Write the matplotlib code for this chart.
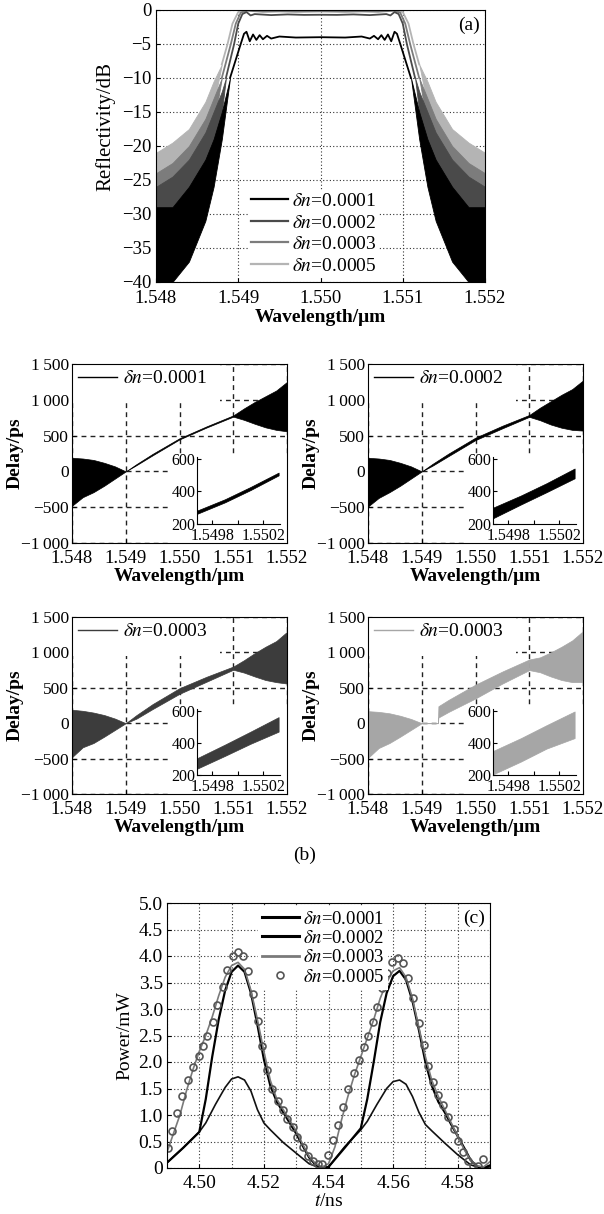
import matplotlib
matplotlib.use("Agg")
import matplotlib.pyplot as plt
from matplotlib.patches import Rectangle

plt.rcParams['font.family'] = ['Liberation Serif', 'DejaVu Serif']
plt.rcParams['mathtext.fontset'] = 'stix'
plt.rcParams['axes.unicode_minus'] = True

W, H = 604, 1214

# ---------------- (a) reflectivity spectra ----------------
# noisy side-lobe skirts (upper / lower envelope, dB)
skirt_wl_L = {'0.0005': [1.5480, 1.5482, 1.5484, 1.5486, 1.5487, 1.5488],
              '0.0003': [1.5480, 1.5482, 1.5484, 1.5486, 1.5487, 1.5488],
              '0.0002': [1.5480, 1.5482, 1.5484, 1.5486, 1.5487, 1.5488, 1.54885],
              '0.0001': [1.5480, 1.5482, 1.5484, 1.5486, 1.5487, 1.5488, 1.5489]}
skirt_wl_R = {'0.0005': [1.5512, 1.5513, 1.5514, 1.5516, 1.5518, 1.5520],
              '0.0003': [1.5512, 1.5513, 1.5514, 1.5516, 1.5518, 1.5520],
              '0.0002': [1.55115, 1.5512, 1.5513, 1.5514, 1.5516, 1.5518, 1.5520],
              '0.0001': [1.5511, 1.5512, 1.5513, 1.5514, 1.5516, 1.5518, 1.5520]}
up_L = {'0.0005': [-21, -19.5, -17.5, -13.5, -10.5, -8],
        '0.0003': [-24, -22.5, -20, -16, -13, -10],
        '0.0002': [-26, -24.5, -22, -18, -15, -12, -10],
        '0.0001': [-29, -29, -26, -22, -19, -15, -10]}
lo_L = {'0.0005': [-30, -28, -24, -19, -14, -8],
        '0.0003': [-33, -31, -27.5, -22, -17, -10],
        '0.0002': [-36, -34, -30.5, -25, -20.5, -15, -10],
        '0.0001': [-40, -40, -37, -31, -26, -19, -10]}
up_R = {'0.0005': [-8, -10.5, -13.5, -17.5, -19.5, -21],
        '0.0003': [-10, -13, -16, -20, -22.5, -24],
        '0.0002': [-10, -12, -15, -18, -22, -24.5, -26],
        '0.0001': [-10, -15, -19, -22, -26, -29, -29]}
lo_R = {'0.0005': [-8, -14, -19, -24, -28, -30],
        '0.0003': [-10, -17, -22, -27.5, -31, -33],
        '0.0002': [-10, -15, -20.5, -25, -30.5, -34, -36],
        '0.0001': [-10, -19, -26, -31, -37, -40, -40]}

# band edges and pass band
band_wl = {
    '0.0005': [1.5488, 1.54887, 1.54893, 1.5490, 1.5491, 1.5493, 1.5495, 1.5497, 1.5500,
               1.5503, 1.5505, 1.5507, 1.5509, 1.5510, 1.55107, 1.55113, 1.5512],
    '0.0003': [1.5488, 1.54891, 1.54897, 1.54903, 1.5491, 1.5493, 1.5495, 1.5497, 1.5500,
               1.5503, 1.5505, 1.5507, 1.5509, 1.55097, 1.55103, 1.55109, 1.5512],
    '0.0002': [1.54885, 1.54895, 1.5490, 1.54905, 1.5491, 1.54915, 1.5492, 1.5494,
               1.5496, 1.5498, 1.5500, 1.5502, 1.5504, 1.5506, 1.5508, 1.55085, 1.5509,
               1.55095, 1.5510, 1.55105, 1.55115],
    '0.0001': [1.5489, 1.54903, 1.54907, 1.5491, 1.54914, 1.54918, 1.54922, 1.54926,
               1.5493, 1.54935, 1.5494, 1.5495, 1.5497, 1.5500, 1.5503, 1.5505, 1.5506,
               1.55065, 1.5507, 1.55074, 1.55078, 1.55082, 1.55086, 1.5509, 1.55093,
               1.55097, 1.5511]}
band_db = {
    '0.0005': [-8, -5, -2, -0.3, 0, -0.05, -0.1, -0.05, -0.1, -0.05, -0.1, -0.05, 0,
               -0.3, -2, -5, -8],
    '0.0003': [-10, -5, -2, -0.4, -0.1, -0.25, -0.2, -0.25, -0.2, -0.25, -0.2, -0.25,
               -0.1, -0.4, -2, -5, -10],
    '0.0002': [-10, -5, -2, -0.6, -0.3, -0.8, -0.6, -0.75, -0.65, -0.72, -0.7,
               -0.72, -0.65, -0.75, -0.6, -0.8, -0.3, -0.6, -2, -5, -10],
    '0.0001': [-10, -5, -3.5, -3.2, -4.6, -3.6, -4.4, -3.7, -4.3, -3.8, -4.2, -3.9,
               -4.05, -4.0, -4.05, -3.9, -4.2, -3.8, -4.3, -3.7, -4.4, -3.6, -4.6, -3.2,
               -3.5, -5, -10]}
a_colors = {'0.0001': '#000000', '0.0002': '#4a4a4a', '0.0003': '#7c7c7c', '0.0005': '#b4b4b4'}
a_order = ['0.0005', '0.0003', '0.0002', '0.0001']

# ---------------- (b) group delay ----------------
bl_L = [1.5480, 1.5482, 1.5484, 1.5486, 1.5488, 1.5490]
bl_D = [1.5490, 1.5492, 1.5495, 1.5500, 1.5505, 1.5510]
bl_D4 = [1.5490, 1.5493, 1.54931, 1.5495, 1.5500, 1.5505, 1.5510]
bl_R = [1.5510, 1.5512, 1.5514, 1.5516, 1.5518, 1.5520]
in_x = [1.54968, 1.5499, 1.5501, 1.55032]

b_panels = [
    dict(label='0.0001', color='#000000',
         lu=[190, 180, 160, 120, 70, 0], ll=[-480, -360, -290, -200, -100, 0],
         dx=bl_D, du=[0, 102, 245, 463, 628, 782], dl=[0, 88, 225, 447, 612, 765],
         ru=[782, 880, 970, 1050, 1130, 1250], rl=[765, 720, 665, 615, 580, 560],
         iu=[282, 352, 427, 515], il=[262, 333, 408, 498]),
    dict(label='0.0002', color='#000000',
         lu=[190, 180, 160, 120, 70, 0], ll=[-490, -370, -290, -200, -100, 0],
         dx=bl_D, du=[0, 105, 250, 472, 638, 788], dl=[0, 80, 215, 438, 602, 762],
         ru=[788, 890, 980, 1070, 1150, 1270], rl=[762, 715, 655, 610, 580, 570],
         iu=[300, 375, 450, 540], il=[235, 320, 395, 480]),
    dict(label='0.0003', color='#3c3c3c',
         lu=[190, 175, 150, 115, 65, 0], ll=[-480, -340, -280, -190, -95, 0],
         dx=bl_D, du=[0, 115, 270, 495, 655, 800], dl=[0, 65, 200, 415, 585, 755],
         ru=[800, 890, 990, 1080, 1160, 1290], rl=[755, 715, 660, 610, 580, 560],
         iu=[305, 390, 470, 560], il=[240, 320, 395, 470]),
    dict(label='0.0003', color='#a6a6a6',
         lu=[170, 160, 140, 105, 60, 0], ll=[-490, -350, -280, -190, -95, 0],
         dx=bl_D4, du=[0, 0, 240, 330, 545, 730, 900], dl=[0, 0, 80, 160, 350, 560, 750],
         ru=[900, 930, 1000, 1080, 1170, 1300], rl=[750, 720, 660, 610, 580, 580],
         iu=[350, 430, 510, 595], il=[205, 285, 365, 430]),
]
b_boxes = [(72, 364, 287, 543), (368, 364, 583, 543), (72, 617, 287, 794), (368, 617, 583, 794)]

# ---------------- (c) output pulses ----------------
t1 = [4.490, 4.495, 4.500, 4.502, 4.505, 4.508, 4.510, 4.512, 4.514, 4.516, 4.518, 4.520,
      4.522, 4.526, 4.530, 4.534, 4.537, 4.540, 4.545, 4.550, 4.552, 4.555, 4.558, 4.560,
      4.562, 4.564, 4.566, 4.568, 4.570, 4.572, 4.576, 4.580, 4.584, 4.587, 4.590]
p1 = [0.10, 0.38, 0.68, 0.85, 1.20, 1.52, 1.68, 1.72, 1.66, 1.45, 1.10, 0.85, 0.72, 0.48,
      0.28, 0.08, 0.01, 0.02, 0.40, 0.72, 0.88, 1.20, 1.50, 1.63, 1.66, 1.58, 1.35, 1.05,
      0.82, 0.70, 0.47, 0.25, 0.06, 0.00, 0.02]
t2 = [4.490, 4.495, 4.500, 4.502, 4.504, 4.506, 4.508, 4.510, 4.512, 4.514, 4.516, 4.518,
      4.520, 4.522, 4.524, 4.526, 4.528, 4.530, 4.532, 4.534, 4.536, 4.538, 4.540, 4.545,
      4.550, 4.552, 4.554, 4.556, 4.558, 4.560, 4.562, 4.564, 4.566, 4.568, 4.570, 4.572,
      4.574, 4.576, 4.578, 4.580, 4.582, 4.584, 4.586, 4.588, 4.590]
p2 = [0.10, 0.38, 0.68, 1.30, 2.10, 2.80, 3.35, 3.70, 3.82, 3.70, 3.30, 2.70, 2.05, 1.55,
      1.25, 1.05, 0.85, 0.65, 0.42, 0.20, 0.06, 0.00, 0.02, 0.38, 0.75, 1.30, 2.00, 2.75,
      3.30, 3.62, 3.72, 3.55, 3.15, 2.60, 2.00, 1.55, 1.25, 1.05, 0.82, 0.60, 0.38, 0.15,
      0.03, 0.00, 0.05]
t3 = [4.490, 4.492, 4.494, 4.496, 4.498, 4.500, 4.502, 4.504, 4.506, 4.508, 4.510, 4.512,
      4.514, 4.516, 4.518, 4.520, 4.522, 4.524, 4.526, 4.528, 4.530, 4.532, 4.534, 4.536,
      4.538, 4.540, 4.542, 4.544, 4.546, 4.548, 4.550, 4.552, 4.554, 4.556, 4.558, 4.560,
      4.562, 4.564, 4.566, 4.568, 4.570, 4.572, 4.574, 4.576, 4.578, 4.580, 4.582, 4.584,
      4.586, 4.588, 4.590]
p3 = [0.30, 0.65, 1.00, 1.45, 1.85, 2.20, 2.50, 2.85, 3.25, 3.60, 3.82, 3.88, 3.75, 3.35,
      2.80, 2.20, 1.65, 1.30, 1.10, 0.90, 0.70, 0.45, 0.22, 0.08, 0.02, 0.08, 0.40, 0.90,
      1.35, 1.75, 2.10, 2.45, 2.80, 3.20, 3.50, 3.72, 3.78, 3.60, 3.20, 2.65, 2.10, 1.65,
      1.35, 1.10, 0.85, 0.60, 0.35, 0.15, 0.04, 0.02, 0.12]
t5 = [4.4902, 4.4917, 4.4931, 4.4947, 4.4965, 4.4980, 4.5000, 4.5011, 4.5025, 4.5043,
      4.5056, 4.5073, 4.5087, 4.5104, 4.5119, 4.5136, 4.5152, 4.5165, 4.5182, 4.5194,
      4.5210, 4.5225, 4.5243, 4.5258, 4.5273, 4.5289, 4.5304, 4.5320, 4.5336, 4.5351,
      4.5366, 4.5381, 4.5397, 4.5413, 4.5428, 4.5446, 4.5461, 4.5478, 4.5494, 4.5510,
      4.5523, 4.5538, 4.5551, 4.5566, 4.5582, 4.5597, 4.5615, 4.5630, 4.5646, 4.5661,
      4.5679, 4.5695, 4.5709, 4.5723, 4.5738, 4.5753, 4.5771, 4.5787, 4.5802, 4.5817,
      4.5832, 4.5848, 4.5863, 4.5878]
p5 = [0.38, 0.70, 1.03, 1.36, 1.66, 1.90, 2.12, 2.31, 2.50, 2.75, 3.07, 3.42, 3.73, 4.00,
      4.07, 4.00, 3.72, 3.28, 2.77, 2.31, 1.85, 1.50, 1.26, 1.09, 0.93, 0.78, 0.59, 0.40,
      0.23, 0.13, 0.08, 0.08, 0.25, 0.52, 0.82, 1.16, 1.49, 1.80, 2.03, 2.28, 2.50, 2.75,
      3.04, 3.39, 3.67, 3.89, 3.96, 3.87, 3.58, 3.20, 2.74, 2.32, 1.93, 1.63, 1.37, 1.19,
      0.96, 0.73, 0.51, 0.30, 0.13, 0.03, 0.04, 0.17]


def box(l, t, r, b):
    return [l / W, 1 - b / H, (r - l) / W, (b - t) / H]


def dn(v):
    return r'$\delta n$=' + v


fig = plt.figure(figsize=(W / 100, H / 100), dpi=100)

# ---- panel (a)
ax = fig.add_axes(box(156, 10, 485, 282))
ax.set_axisbelow(True)
for k in a_order:
    c = a_colors[k]
    ax.fill_between(skirt_wl_L[k], up_L[k], lo_L[k], color=c, lw=0.6)
    ax.fill_between(skirt_wl_R[k], up_R[k], lo_R[k], color=c, lw=0.6)
    ax.plot(band_wl[k], band_db[k], color=c, lw=1.3)
keys = ['0.0001', '0.0002', '0.0003', '0.0005']
handles = [plt.Line2D([], [], color=a_colors[k], lw=1.6) for k in keys]
ax.legend(handles, [dn(k) for k in keys],
          loc='upper left', bbox_to_anchor=(0.28, 0.34), fontsize=14, frameon=True,
          facecolor='white', edgecolor='none', framealpha=1, fancybox=False,
          handlelength=1.9, handletextpad=0.2, labelspacing=0.2, borderpad=0.15,
          borderaxespad=0)
ax.set_xlim(1.548, 1.552)
ax.set_ylim(-40, 0)
ax.set_xticks([1.548, 1.549, 1.550, 1.551, 1.552])
ax.set_xticklabels(['1.548', '1.549', '1.550', '1.551', '1.552'])
ax.set_yticks(range(-40, 1, 5))
ax.grid(True, ls=(0, (1, 2)), color='#333333', lw=0.8)
ax.tick_params(direction='in', length=3, labelsize=13.5)
ax.tick_params(axis='x', pad=6)
ax.set_ylabel('Reflectivity/dB', fontsize=15)
ax.yaxis.set_label_coords(-0.125, 0.57)
ax.set_xlabel('Wavelength/μm', fontsize=14, fontweight='bold', labelpad=1)
ax.text(0.985, 0.975, '(a)', transform=ax.transAxes, ha='right', va='top', fontsize=14)

# ---- panel (b)
for p, bx in zip(b_panels, b_boxes):
    ax = fig.add_axes(box(*bx))
    ax.set_axisbelow(True)
    c = p['color']
    ax.fill_between(bl_L, p['lu'], p['ll'], color=c, lw=0.5, zorder=2)
    ax.fill_between(p['dx'], p['du'], p['dl'], color=c, lw=0.5, zorder=2)
    ax.fill_between(bl_R, p['ru'], p['rl'], color=c, lw=0.5, zorder=2)
    # white areas behind legend and inset hide the grid, as in the original
    ax.add_patch(Rectangle((0, 0.78), 0.69, 0.22, transform=ax.transAxes,
                           facecolor='white', edgecolor='none', zorder=1))
    ax.add_patch(Rectangle((0.45, 0), 0.55, 0.49, transform=ax.transAxes,
                           facecolor='white', edgecolor='none', zorder=1))
    ax.plot([], [], color=c, lw=1.0, label=dn(p['label']))
    ax.legend(loc='upper left', frameon=False, fontsize=14, handlelength=2.0,
              handletextpad=0.3, borderaxespad=0.1, borderpad=0.2)
    ax.set_xlim(1.548, 1.552)
    ax.set_ylim(-1000, 1500)
    ax.set_xticks([1.548, 1.549, 1.550, 1.551, 1.552])
    ax.set_xticklabels(['1.548', '1.549', '1.550', '1.551', '1.552'])
    ax.set_yticks([-1000, -500, 0, 500, 1000, 1500])
    ax.set_yticklabels(['\u22121\u2009000', '\u2212500', '0', '500', '1\u2009000', '1\u2009500'])
    ax.grid(True, ls=(0, (3.5, 3)), color='#222222', lw=1.0)
    ax.tick_params(direction='in', length=3, pad=2)
    ax.tick_params(axis='x', labelsize=13.5, pad=5)
    ax.tick_params(axis='y', labelsize=12.5)
    ax.set_ylabel('Delay/ps', fontsize=14, fontweight='bold')
    ax.yaxis.set_label_coords(-0.225, 0.5)
    ax.set_xlabel('Wavelength/μm', fontsize=14, fontweight='bold', labelpad=1)

    ins = ax.inset_axes([0.581, 0.106, 0.386, 0.374])
    ins.fill_between(in_x, p['iu'], p['il'], color=c, lw=0.5)
    ins.set_xlim(1.54968, 1.55033)
    ins.set_ylim(200, 610)
    ins.set_xticks([1.5498, 1.5500, 1.5502])
    ins.set_xticklabels(['1.5498', '', '1.5502'])
    ins.set_yticks([200, 400, 600])
    ins.spines['top'].set_visible(False)
    ins.spines['right'].set_visible(False)
    ins.patch.set_alpha(0)
    ins.tick_params(direction='in', length=3, labelsize=11.5, pad=1)
    ins.tick_params(axis='x', pad=3)

fig.text(305 / W, 1 - 855 / H, '(b)', ha='center', va='center', fontsize=14)

# ---- panel (c)
ax = fig.add_axes(box(167, 903, 490, 1168))
ax.set_axisbelow(True)
ax.plot(t1, p1, color='#111111', lw=1.2, label=dn('0.0001'))
ax.plot(t2, p2, color='#000000', lw=1.6, label=dn('0.0002'))
ax.plot(t3, p3, color='#7a7a7a', lw=1.2, label=dn('0.0003'))
ax.plot(t5, p5, ls='none', marker='o', ms=5, mfc='none', mec='#555555', mew=1.2,
        label=dn('0.0005'))
h, l = ax.get_legend_handles_labels()
h[0] = plt.Line2D([], [], color='#000000', lw=2.2)
h[1] = plt.Line2D([], [], color='#000000', lw=2.2)
h[2] = plt.Line2D([], [], color='#7a7a7a', lw=2.0)
ax.legend(h, l, loc='upper left', bbox_to_anchor=(0.27, 1.0), fontsize=13.5, frameon=True,
          facecolor='white', edgecolor='none', framealpha=1, fancybox=False,
          handlelength=2.0, handletextpad=0.2, labelspacing=0.12, borderpad=0.2,
          borderaxespad=0.2, numpoints=1)
ax.set_xlim(4.49, 4.59)
ax.set_ylim(0, 5)
ax.set_xticks([4.50, 4.52, 4.54, 4.56, 4.58])
ax.set_xticklabels(['4.50', '4.52', '4.54', '4.56', '4.58'])
ax.set_xticks([4.49, 4.51, 4.53, 4.55, 4.57, 4.59], minor=True)
ax.set_yticks([0, 0.5, 1, 1.5, 2, 2.5, 3, 3.5, 4, 4.5, 5])
ax.set_yticklabels(['0', '0.5', '1.0', '1.5', '2.0', '2.5', '3.0', '3.5', '4.0', '4.5', '5.0'])
ax.grid(True, which='both', axis='x', ls=(0, (1, 2)), color='#333333', lw=0.8)
ax.grid(True, which='major', axis='y', ls=(0, (1, 2)), color='#333333', lw=0.8)
ax.tick_params(direction='in', length=3, labelsize=14, pad=3)
ax.tick_params(axis='x', pad=5)
ax.tick_params(which='minor', length=0)
ax.set_ylabel('Power/mW', fontsize=14)
ax.set_xlabel(r'$t$/ns', fontsize=14, labelpad=1)
ax.text(0.985, 0.975, '(c)', transform=ax.transAxes, ha='right', va='top', fontsize=14)

fig.savefig('out.png', dpi=100)
